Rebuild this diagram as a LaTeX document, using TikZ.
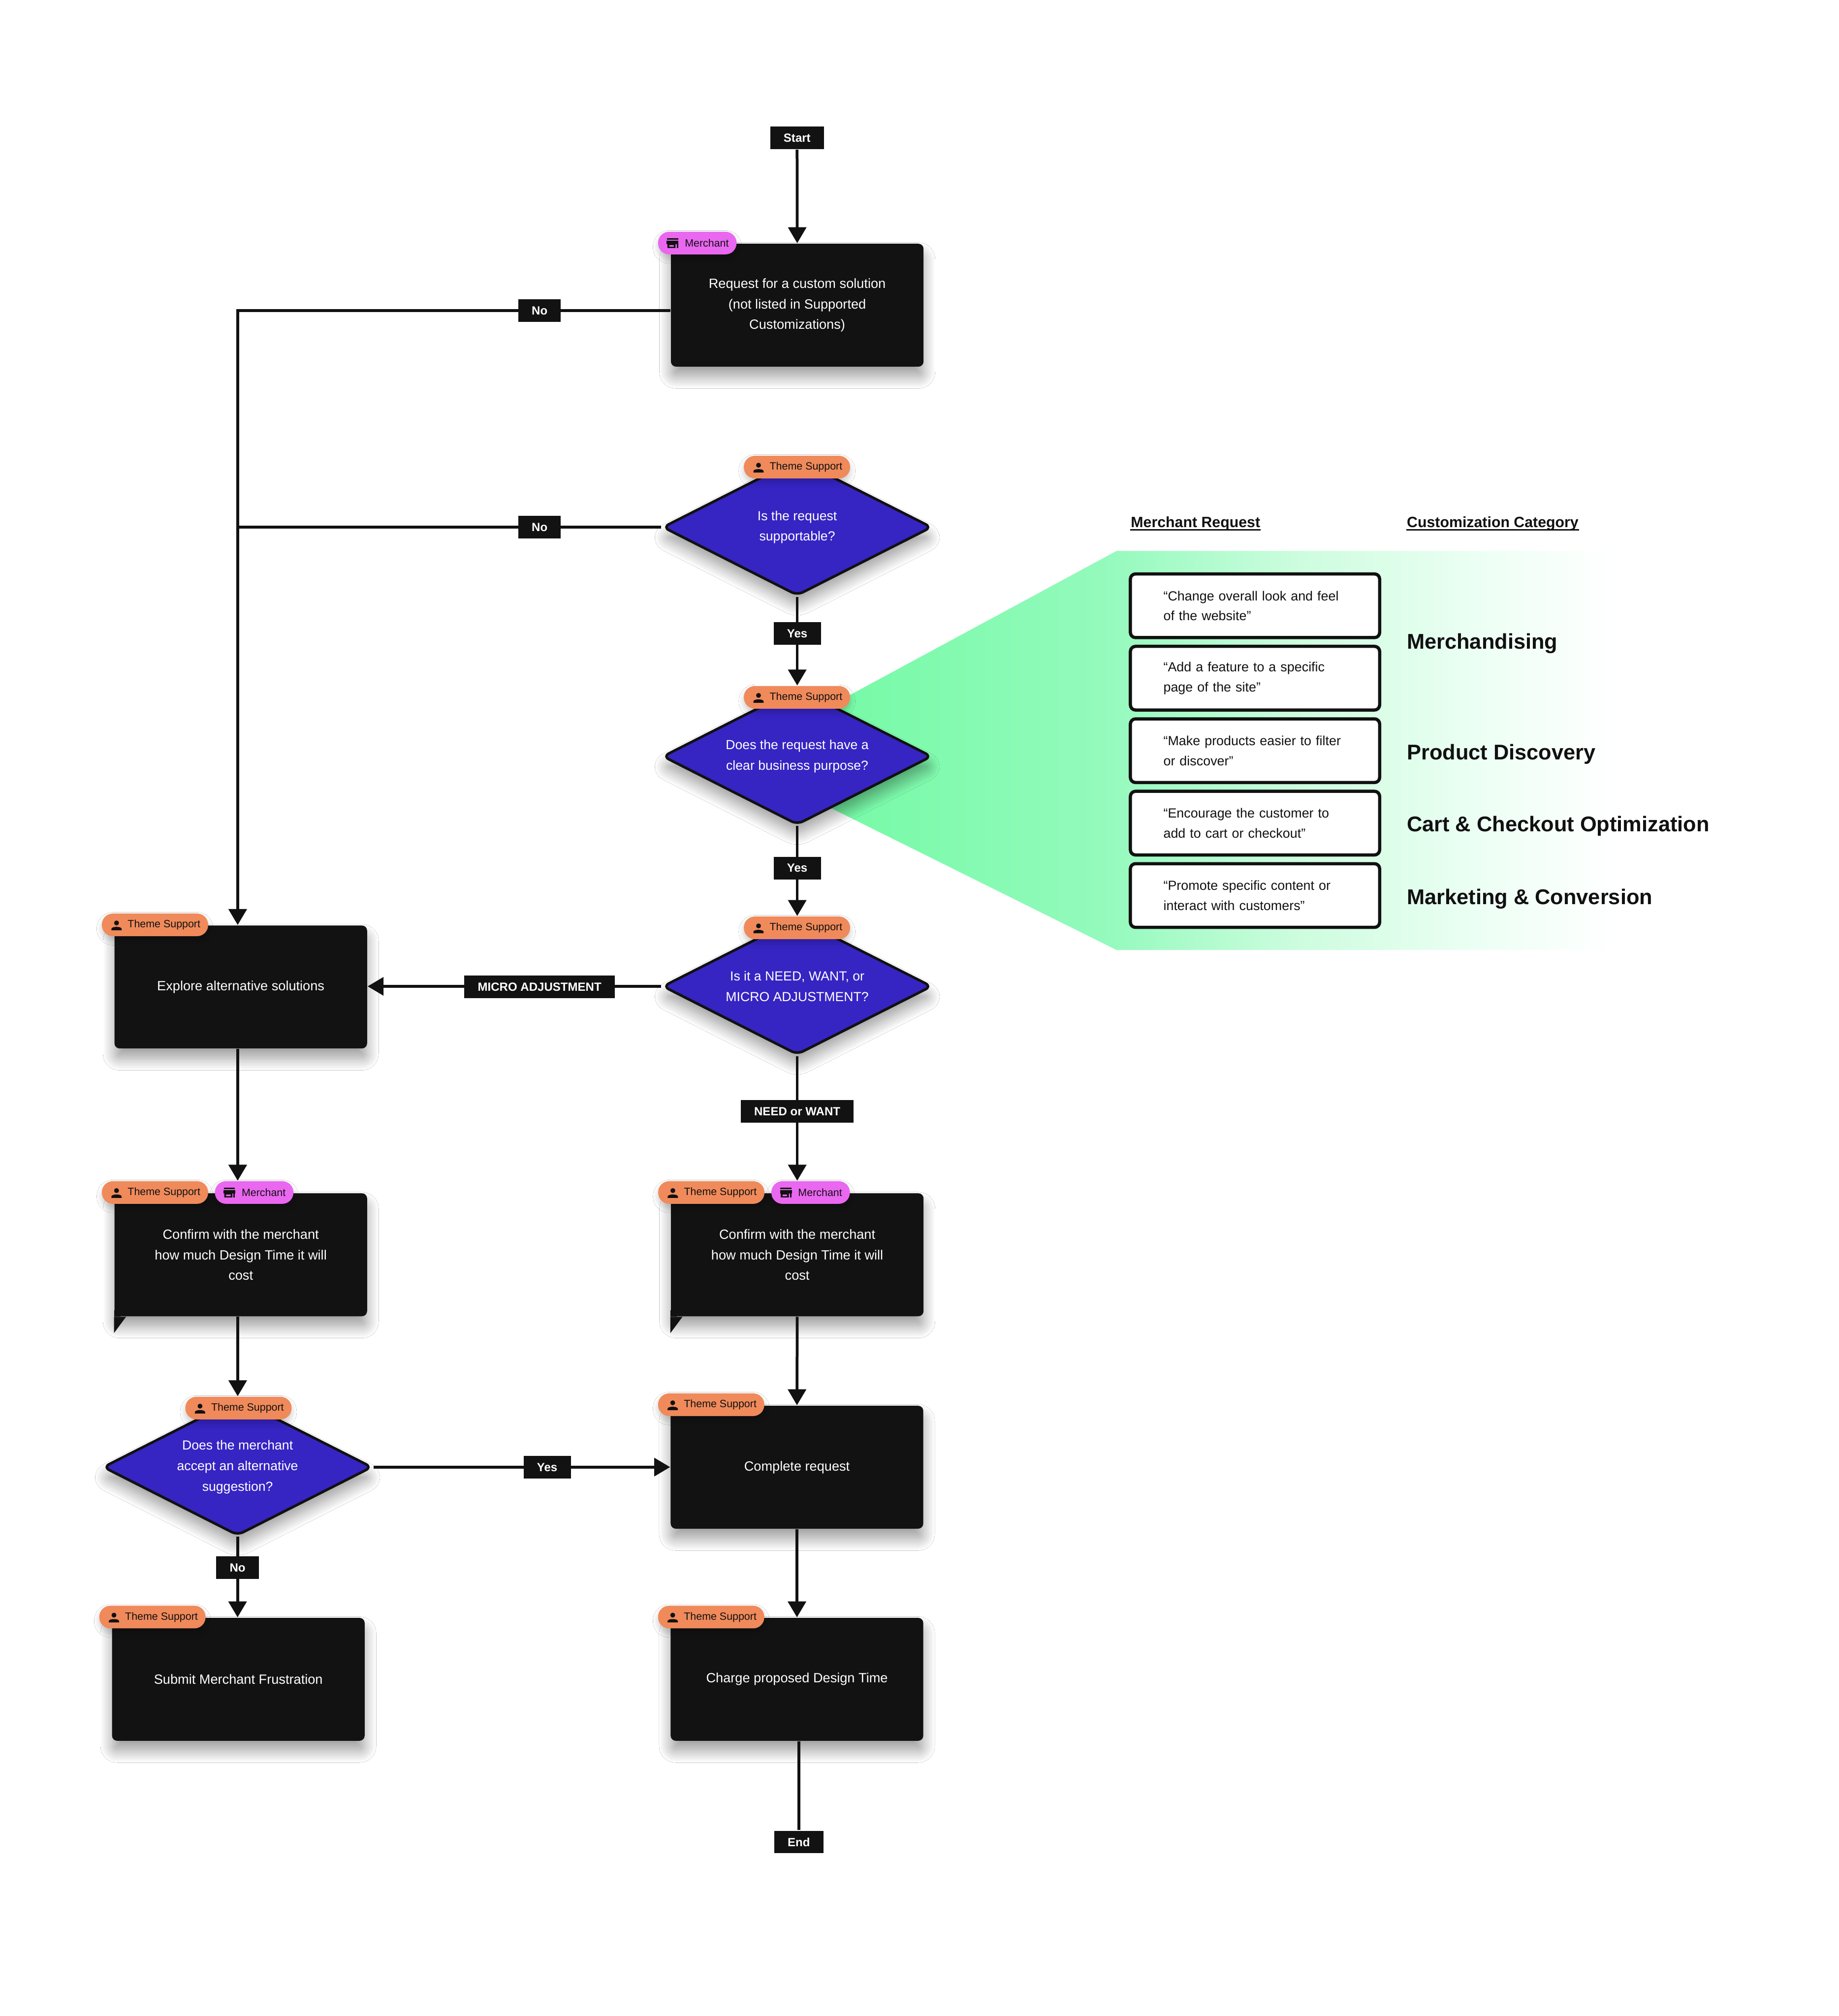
\documentclass[tikz,border=0pt]{standalone}
\usepackage{fontspec}
\setmainfont{Liberation Sans}
\usetikzlibrary{shapes.geometric,arrows.meta,calc,shadows.blur}
\definecolor{ink}{HTML}{111111}
\definecolor{boxc}{HTML}{121212}
\definecolor{dia}{HTML}{3624C3}
\definecolor{tsor}{HTML}{F08A5B}
\definecolor{merp}{HTML}{EA67F0}
\pgfdeclarehorizontalshading{greenfade}{100bp}{rgb(0bp)=(0.42,0.98,0.62); rgb(25bp)=(0.42,0.98,0.62); rgb(45bp)=(0.58,0.98,0.74); rgb(55bp)=(0.80,0.99,0.87); rgb(65bp)=(0.93,1,0.96); rgb(72bp)=(1,1,1); rgb(100bp)=(1,1,1)}
\tikzset{
  flow/.style={draw=ink, line width=1.1pt, -{Triangle[width=7pt,length=6.2pt]}},
  plain/.style={draw=ink, line width=1.1pt},
  shad/.style={blur shadow={shadow xshift=0pt, shadow yshift=-4pt, shadow blur radius=4.5pt, shadow opacity=38, shadow blur steps=20}},
  proc/.style={shad, fill=boxc, rounded corners=2pt, minimum width=98.2pt, minimum height=47.8pt, inner sep=0pt, text=white, align=center, font=\fontsize{5.2pt}{7.9pt}\selectfont},
  dec/.style={shad, diamond, aspect=2, fill=dia, draw=ink, line width=1pt, rounded corners=2.5pt, minimum width=104.7pt, minimum height=53.2pt, inner sep=0pt, text=white, align=center, font=\fontsize{5.1pt}{8pt}\selectfont},
  lbl/.style={fill=boxc, text=white, inner xsep=5.2pt, inner ysep=0pt, minimum height=8.8pt, font=\bfseries\fontsize{4.6pt}{5pt}\selectfont},
  tagbase/.style={rounded corners=4.3pt, minimum height=8.8pt, inner sep=0pt, blur shadow={shadow xshift=0pt, shadow yshift=-1.5pt, shadow blur radius=2pt, shadow opacity=20, shadow blur steps=10}},
  tagts/.style={tagbase, fill=tsor, minimum width=41.3pt},
  tagmer/.style={tagbase, fill=merp, minimum width=30.5pt},
  tagtext/.style={inner sep=0pt, text=ink, font=\fontsize{4.1pt}{5pt}\selectfont},
  rq/.style={draw=ink, line width=1.25pt, fill=white, rounded corners=2pt, minimum width=96.9pt, minimum height=24.75pt, inner xsep=12.85pt, inner ysep=0pt, text width=71.2pt, align=left, text=ink, font=\fontsize{5.15pt}{7.8pt}\selectfont},
  cat/.style={anchor=base west, inner sep=0pt, text=ink, font=\bfseries\fontsize{8.3pt}{10pt}\selectfont},
  hdr/.style={anchor=base west, inner sep=0pt, text=ink, font=\bfseries\fontsize{5.8pt}{7pt}\selectfont},
  uline/.style={draw=ink, line width=0.45pt},
}
\newcommand{\picPerson}[1]{%
  \begin{scope}[shift={($(#1.west)+(11.8,0)$)}]
    \fill[ink] (0,-1.5) circle[radius=1.9];
    \fill[ink] (-4,4.2) -- (-4,3.2) .. controls (-4,1.0) and (4,1.0) .. (4,3.2) -- (4,4.2) -- cycle;
  \end{scope}}
\newcommand{\picStore}[1]{%
  \begin{scope}[shift={($(#1.west)+(11.7,0)$)}]
    \fill[ink] (-4.3,-3.7) rectangle (4.3,-2.6);
    \fill[ink] (-4.6,-1.9) rectangle (4.6,0.7);
    \fill[ink,even odd rule] (-4,0.7) rectangle (2.3,3.8) (-2.6,1.5) rectangle (0.9,2.9);
    \fill[ink] (3.1,0.7) rectangle (4.3,3.8);
  \end{scope}}
\newcommand{\mkTS}[2]{%
  \node[tagts] (#1) at (#2) {};
  \node[tagtext, anchor=east] at ($(#1.east)+(-6,0)$) {Theme Support};
  \picPerson{#1}}
\newcommand{\mkMer}[2]{%
  \node[tagmer] (#1) at (#2) {};
  \node[tagtext, anchor=east] at ($(#1.east)+(-6,0)$) {Merchant};
  \picStore{#1}}
\begin{document}
\begin{tikzpicture}[x=0.5pt,y=-0.5pt]
\useasboundingbox (0,0) rectangle (1429.4,1567.5);
\fill[white] (0,0) rectangle (1429.4,1567.5);

% green panel
\shade[shading=greenfade] (569,590) -- (868,428.4) -- (1300,428.4) -- (1300,738.6) -- (868,738.6) -- cycle;

% right panel
\node[hdr] (hdrA) at (878.8,410.1) {Merchant Request};
\node[hdr] (hdrB) at (1093.4,410.1) {Customization Category};
\draw[uline] ($(hdrA.base west)+(0,1.8)$) -- ($(hdrA.base east)+(0,1.8)$);
\draw[uline] ($(hdrB.base west)+(0,1.8)$) -- ($(hdrB.base east)+(0,1.8)$);
\node[rq] (rq1) at (975.7,471) {“Change overall look and feel\\of the website”};
\node[rq] (rq2) at (975.7,527.3) {“Add a feature to a specific\\page of the site”};
\node[rq] (rq3) at (975.7,583.7) {“Make products easier to filter\\or discover”};
\node[rq] (rq4) at (975.7,640) {“Encourage the customer to\\add to cart or checkout”};
\node[rq] (rq5) at (975.7,696.3) {“Promote specific content or\\interact with customers”};
\node[cat] (cat1) at (1093.4,504.7) {Merchandising};
\node[cat] (cat2) at (1093.4,590.5) {Product Discovery};
\node[cat] (cat3) at (1093.4,646.7) {Cart \& Checkout Optimization};
\node[cat] (cat4) at (1093.4,703.1) {Marketing \& Conversion};

% main nodes
\node[proc] (req) at (619.8,237.3) {Request for a custom solution\\(not listed in Supported\\Customizations)};
\node[dec] (d1) at (619.8,409.9) {Is the request\\supportable?};
\node[dec] (d2) at (619.8,588.1) {Does the request have a\\clear business purpose?};
\node[dec] (d3) at (619.8,766.9) {Is it a NEED, WANT, or\\MICRO ADJUSTMENT?};
\node[proc] (explore) at (187.2,767.4) {Explore alternative solutions};
\node[proc] (conf1) at (187.2,975.6) {Confirm with the merchant\\how much Design Time it will\\cost};
\node[proc] (conf2) at (619.8,975.6) {Confirm with the merchant\\how much Design Time it will\\cost};
\node[dec] (d4) at (184.7,1140.7) {Does the merchant\\accept an alternative\\suggestion?};
\node[proc] (complete) at (619.6,1140.8) {Complete request};
\node[proc] (submit) at (185.3,1305.7) {Submit Merchant Frustration};
\node[proc] (charge) at (619.6,1305.7) {Charge proposed Design Time};

% speech tails
\fill[boxc] (conf1.south west) rectangle ++(5,-5);
\fill[boxc] (conf1.south west) -- ++(0,12.7) -- ++(9.4,-12.7) -- cycle;
\fill[boxc] (conf2.south west) rectangle ++(5,-5);
\fill[boxc] (conf2.south west) -- ++(0,12.7) -- ++(9.4,-12.7) -- cycle;

% tags
\mkMer{mReq}{542.1,189}
\mkTS{tD1}{619.6,363.2}
\mkTS{tD2}{619.6,542.2}
\mkTS{tD3}{619.6,721.4}
\mkTS{tExp}{120.5,719.1}
\mkTS{tC1}{120.5,927.2}
\mkMer{mC1}{197.6,927.2}
\mkTS{tC2}{553,927.2}
\mkMer{mC2}{630.2,927.2}
\mkTS{tD4}{185.4,1094.8}
\mkTS{tCom}{552.9,1092.2}
\mkTS{tSub}{118.5,1257.3}
\mkTS{tCha}{552.9,1257.3}

% start / end
\node[lbl] (start) at (619.7,107.2) {Start};
\node[lbl] (end) at (621,1432.2) {End};

% connectors
\coordinate (lc) at (184.8,241.5);
\draw[flow] (start.south) -- (req.north);
\draw[flow] ($(req.west)+(0,4.2)$) -- (lc) -- (lc |- explore.north);
\draw[plain] (d1.west) -- (d1.west -| lc);
\draw[flow] (d1.south) -- (d1.south |- tD2.north);
\draw[flow] (d2.south) -- (d2.south |- tD3.north);
\draw[flow] (d3.west) -- (d3.west -| explore.east);
\draw[flow] (d3.south) -- (d3.south |- mC2.north);
\draw[flow] (explore.south -| lc) -- (mC1.north -| lc);
\draw[flow] (conf1.south -| lc) -- (tD4.north -| lc);
\draw[flow] (d4.east) -- (d4.east -| complete.west);
\draw[flow] (d4.south) -- (d4.south |- submit.north);
\draw[flow] (conf2.south) -- (complete.north);
\draw[flow] (complete.south) -- (charge.north);
\draw[plain] (end.north |- charge.south) -- (end.north);

% labels
\node[lbl] (no1) at (419.5,241.5) {No};
\node[lbl] (no2) at (419.5,409.9) {No};
\node[lbl] (yes1) at (619.8,492.7) {Yes};
\node[lbl] (yes2) at (619.8,675) {Yes};
\node[lbl] (micro) at (419.5,767.2) {MICRO ADJUSTMENT};
\node[lbl] (nw) at (619.8,864.1) {NEED or WANT};
\node[lbl] (yes3) at (425.4,1140.8) {Yes};
\node[lbl] (no3) at (184.7,1219) {No};
\end{tikzpicture}
\end{document}
